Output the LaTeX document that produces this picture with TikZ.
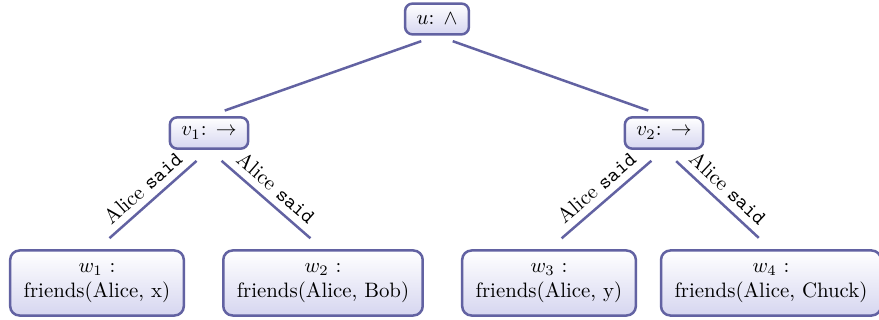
\documentclass[tikz,border=0pt]{standalone}
\usepackage{amsmath, amssymb}
\usepackage{tikz}
\definecolor{nodeline}{RGB}{98,98,162}
\definecolor{nodefill}{RGB}{214,214,240}
\tikzset{
  gnode/.style={rectangle, rounded corners=3.5pt, line width=1.2pt, draw=nodeline,
    top color=white, bottom color=nodefill, inner xsep=5.5pt, inner ysep=4.6pt},
  leaf/.style={gnode, align=center, inner xsep=6.5pt, inner ysep=6.2pt, rounded corners=4.5pt},
  edge/.style={line width=1.2pt, draw=nodeline, shorten <=8pt, shorten >=8pt}
}
\begin{document}
\begin{tikzpicture}[x=0.48pt, y=-0.48pt]
\useasboundingbox (0,0) rectangle (879,320);
\node (u) at (437,19) [gnode] {$u$: $\wedge$};
\node (v1) at (209,133) [gnode] {$v_1$: $\rightarrow$};
\node (v2) at (664,133) [gnode] {$v_2$: $\rightarrow$};
\node (w1) at (97,283) [leaf] {$w_1$ :\\ friends(Alice, x)};
\node (w2) at (323,283) [leaf] {$w_2$ :\\ friends(Alice, Bob)};
\node (w3) at (549,283) [leaf] {$w_3$ :\\ friends(Alice, y)};
\node (w4) at (771,283) [leaf] {$w_4$ :\\ friends(Alice, Chuck)};
\draw[edge] (u.south) -- (v1.north);
\draw[edge] (u.south) -- (v2.north);
\draw[edge] (v1.south) -- node[above, sloped] {Alice \texttt{said}} (w1.north);
\draw[edge] (v1.south) -- node[above, sloped] {Alice \texttt{said}} (w2.north);
\draw[edge] (v2.south) -- node[above, sloped] {Alice \texttt{said}} (w3.north);
\draw[edge] (v2.south) -- node[above, sloped] {Alice \texttt{said}} (w4.north);
\end{tikzpicture}
\end{document}
